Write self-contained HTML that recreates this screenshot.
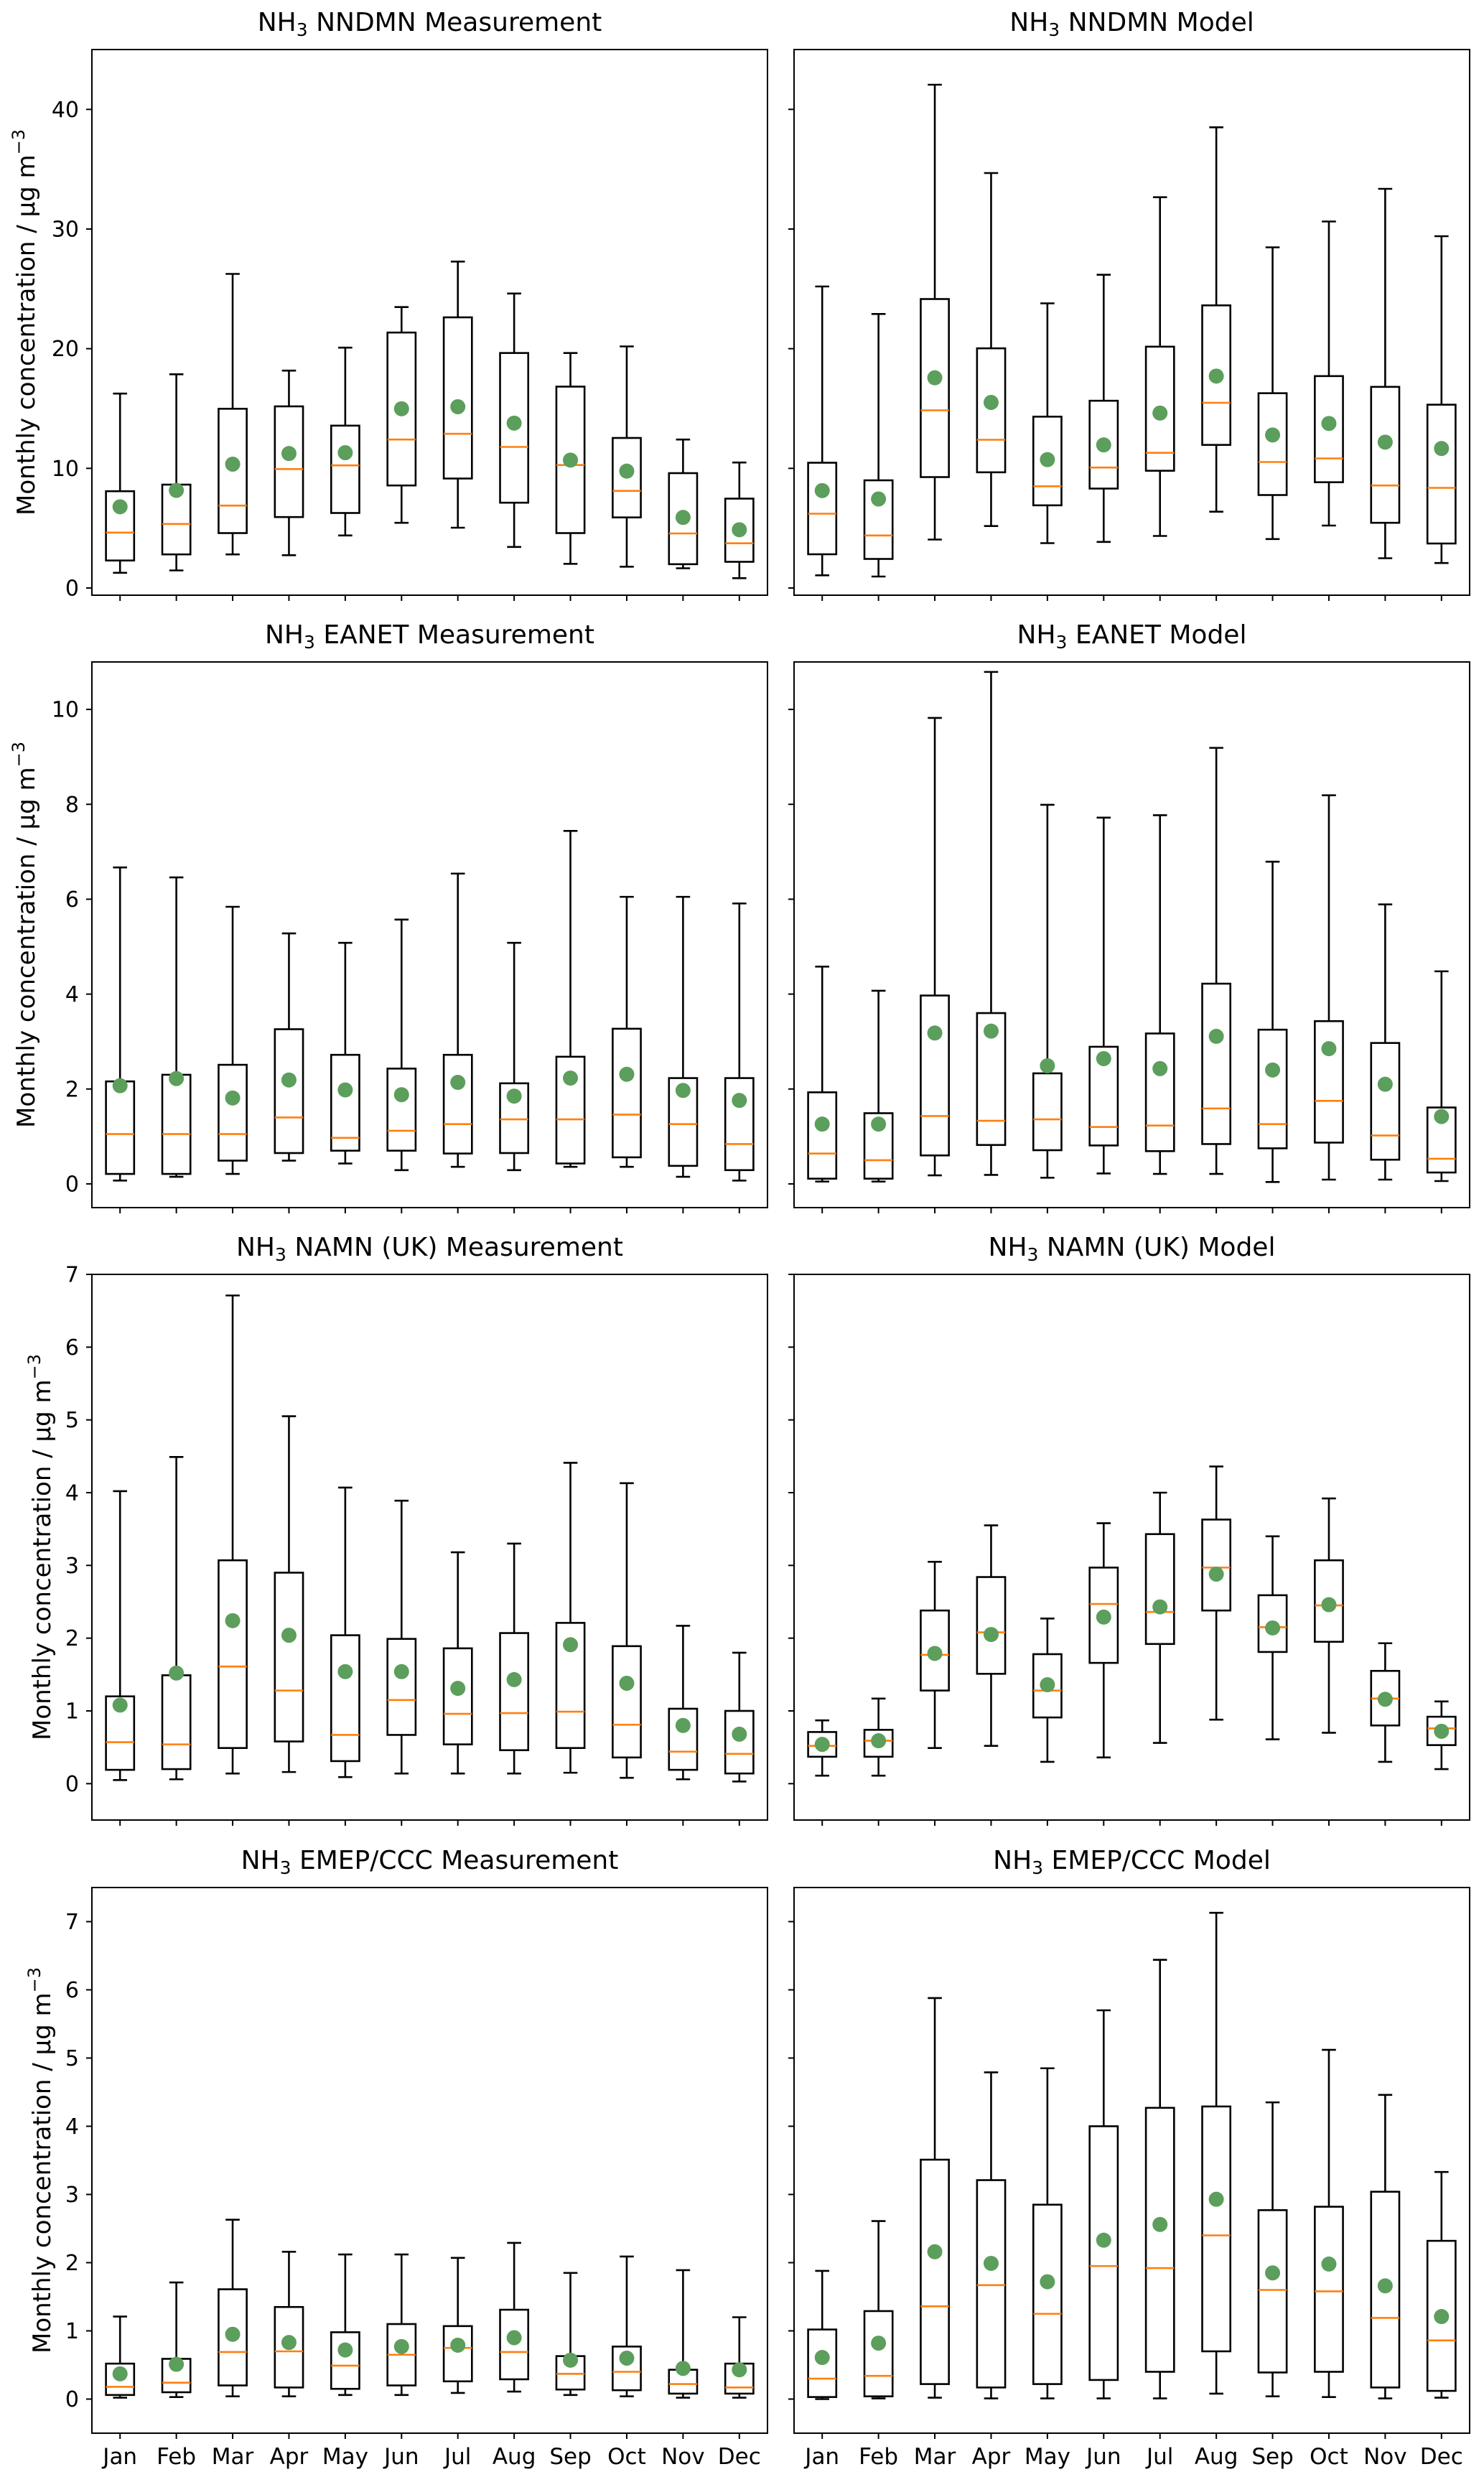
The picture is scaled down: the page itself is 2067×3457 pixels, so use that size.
<!DOCTYPE html>
<html><head><meta charset="utf-8"><title>NH3 monthly boxplots</title>
<style>
html,body{margin:0;padding:0;background:#fff;}
svg{display:block;font-family:"DejaVu Sans","Liberation Sans",sans-serif;}
</style></head>
<body>
<svg id="fig" xmlns="http://www.w3.org/2000/svg" width="2067" height="3457" viewBox="0 0 2067 3457">
<rect x="0" y="0" width="2067" height="3457" fill="#fff"/>
</svg>
<script>
const months = ["Jan","Feb","Mar","Apr","May","Jun","Jul","Aug","Sep","Oct","Nov","Dec"];

// NNDMN Measurement
const nndmnMeasLo   = [1.27,1.47,2.81,2.74,4.39,5.45,5.04,3.43,2.02,1.78,1.65,0.82];
const nndmnMeasQ1   = [2.30,2.81,4.59,5.93,6.27,8.57,9.15,7.13,4.59,5.90,1.99,2.19];
const nndmnMeasMed  = [4.63,5.35,6.89,9.94,10.25,12.41,12.89,11.79,10.28,8.12,4.56,3.74];
const nndmnMeasQ3   = [8.09,8.64,14.98,15.18,13.57,21.35,22.62,19.64,16.83,12.54,9.60,7.47];
const nndmnMeasHi   = [16.25,17.86,26.25,18.17,20.09,23.48,27.28,24.61,19.64,20.19,12.41,10.49];
const nndmnMeasMean = [6.79,8.16,10.35,11.24,11.31,14.98,15.15,13.78,10.69,9.77,5.90,4.87];
// NNDMN Model
const nndmnModLo   = [1.06,0.96,4.05,5.18,3.75,3.85,4.35,6.38,4.09,5.22,2.49,2.09];
const nndmnModQ1   = [2.82,2.43,9.27,9.67,6.91,8.31,9.80,11.96,7.77,8.84,5.45,3.72];
const nndmnModMed  = [6.21,4.39,14.85,12.39,8.50,10.07,11.30,15.48,10.53,10.83,8.57,8.37];
const nndmnModQ3   = [10.47,9.00,24.15,20.03,14.32,15.65,20.17,23.62,16.28,17.71,16.81,15.32];
const nndmnModHi   = [25.2,22.9,42.06,34.68,23.79,26.18,32.66,38.5,28.47,30.63,33.36,29.4];
const nndmnModMean = [8.14,7.44,17.57,15.51,10.73,11.96,14.62,17.71,12.79,13.75,12.19,11.66];
// EANET Measurement
const eanetMeasLo   = [0.07,0.15,0.21,0.49,0.43,0.29,0.36,0.29,0.36,0.36,0.15,0.07];
const eanetMeasQ1   = [0.21,0.21,0.49,0.65,0.70,0.70,0.64,0.65,0.43,0.56,0.38,0.29];
const eanetMeasMed  = [1.05,1.05,1.05,1.40,0.97,1.12,1.26,1.36,1.36,1.46,1.26,0.84];
const eanetMeasQ3   = [2.16,2.30,2.51,3.26,2.72,2.43,2.72,2.12,2.68,3.27,2.23,2.23];
const eanetMeasHi   = [6.67,6.46,5.84,5.28,5.08,5.57,6.54,5.08,7.44,6.05,6.05,5.91];
const eanetMeasMean = [2.07,2.22,1.81,2.19,1.98,1.88,2.14,1.85,2.23,2.31,1.97,1.76];
// EANET Model
const eanetModLo   = [0.05,0.05,0.18,0.19,0.13,0.22,0.21,0.21,0.04,0.09,0.09,0.06];
const eanetModQ1   = [0.11,0.11,0.60,0.82,0.71,0.81,0.69,0.84,0.75,0.87,0.51,0.24];
const eanetModMed  = [0.64,0.50,1.43,1.33,1.36,1.20,1.23,1.59,1.26,1.75,1.02,0.53];
const eanetModQ3   = [1.93,1.49,3.97,3.60,2.33,2.89,3.17,4.22,3.25,3.43,2.97,1.61];
const eanetModHi   = [4.58,4.07,9.82,10.79,7.99,7.72,7.77,9.19,6.79,8.19,5.89,4.48];
const eanetModMean = [1.26,1.26,3.18,3.22,2.49,2.64,2.43,3.11,2.40,2.85,2.10,1.42];
// NAMN (UK) Measurement
const namnMeasLo   = [0.05,0.06,0.14,0.16,0.09,0.14,0.14,0.14,0.15,0.08,0.06,0.03];
const namnMeasQ1   = [0.19,0.20,0.49,0.58,0.31,0.67,0.54,0.46,0.49,0.36,0.19,0.14];
const namnMeasMed  = [0.57,0.54,1.61,1.28,0.67,1.15,0.96,0.97,0.99,0.81,0.44,0.41];
const namnMeasQ3   = [1.20,1.49,3.07,2.90,2.04,1.99,1.86,2.07,2.21,1.89,1.03,1.00];
const namnMeasHi   = [4.02,4.49,6.71,5.05,4.07,3.89,3.18,3.30,4.41,4.13,2.17,1.80];
const namnMeasMean = [1.08,1.52,2.24,2.04,1.54,1.54,1.31,1.43,1.91,1.38,0.80,0.68];
// NAMN (UK) Model
const namnModLo   = [0.11,0.11,0.49,0.52,0.30,0.36,0.56,0.88,0.61,0.70,0.30,0.20];
const namnModQ1   = [0.37,0.37,1.28,1.51,0.91,1.66,1.92,2.38,1.81,1.95,0.80,0.53];
const namnModMed  = [0.52,0.59,1.77,2.08,1.28,2.47,2.36,2.97,2.15,2.45,1.17,0.76];
const namnModQ3   = [0.71,0.74,2.38,2.84,1.78,2.97,3.43,3.63,2.59,3.07,1.55,0.92];
const namnModHi   = [0.87,1.17,3.05,3.55,2.27,3.58,4.00,4.36,3.40,3.92,1.93,1.13];
const namnModMean = [0.54,0.59,1.79,2.05,1.36,2.29,2.43,2.88,2.14,2.46,1.16,0.72];
// EMEP/CCC Measurement
const emepMeasLo   = [0.02,0.03,0.04,0.04,0.06,0.06,0.09,0.11,0.06,0.04,0.02,0.02];
const emepMeasQ1   = [0.06,0.10,0.20,0.17,0.15,0.20,0.26,0.29,0.14,0.13,0.08,0.08];
const emepMeasMed  = [0.18,0.24,0.69,0.70,0.49,0.65,0.75,0.69,0.37,0.40,0.22,0.17];
const emepMeasQ3   = [0.52,0.59,1.61,1.35,0.98,1.10,1.07,1.31,0.63,0.77,0.43,0.52];
const emepMeasHi   = [1.21,1.71,2.63,2.16,2.12,2.12,2.07,2.29,1.85,2.09,1.89,1.20];
const emepMeasMean = [0.37,0.51,0.95,0.83,0.72,0.77,0.79,0.90,0.57,0.60,0.45,0.43];
// EMEP/CCC Model
const emepModLo   = [0.00,0.01,0.02,0.01,0.01,0.01,0.01,0.08,0.04,0.03,0.01,0.02];
const emepModQ1   = [0.03,0.04,0.22,0.17,0.22,0.28,0.40,0.70,0.39,0.40,0.17,0.12];
const emepModMed  = [0.30,0.34,1.36,1.67,1.25,1.95,1.92,2.40,1.60,1.58,1.19,0.86];
const emepModQ3   = [1.02,1.29,3.51,3.21,2.85,4.00,4.27,4.29,2.77,2.82,3.04,2.32];
const emepModHi   = [1.88,2.61,5.88,4.79,4.85,5.70,6.44,7.13,4.35,5.12,4.46,3.33];
const emepModMean = [0.61,0.82,2.16,1.99,1.72,2.33,2.56,2.93,1.85,1.98,1.66,1.21];

const yTicksRow1 = [0,10,20,30,40];
const yTicksRow2 = [0,2,4,6,8,10];
const yTicksRow3 = [0,1,2,3,4,5,6,7];
const yTicksRow4 = [0,1,2,3,4,5,6,7];
const yDomainRow1 = [-0.6,45];
const yDomainRow2 = [-0.5,11];
const yDomainRow3 = [-0.5,7];
const yDomainRow4 = [-0.5,7.5];

const NS = "http://www.w3.org/2000/svg";
const svg = document.getElementById("fig");
function mk(tag, attrs, parent){
  const e = document.createElementNS(NS, tag);
  for (const k in attrs) e.setAttribute(k, attrs[k]);
  (parent||svg).appendChild(e);
  return e;
}
const PW = 941, PH = 760;
const colX = [128, 1106];
const rowY = [69, 922, 1775, 2629];

const panels = [
  {row:0,col:0,name:"nndmn-measurement",net:"NNDMN",kind:"Measurement",lo:nndmnMeasLo,q1:nndmnMeasQ1,med:nndmnMeasMed,q3:nndmnMeasQ3,hi:nndmnMeasHi,mean:nndmnMeasMean,ticks:yTicksRow1,dom:yDomainRow1},
  {row:0,col:1,name:"nndmn-model",net:"NNDMN",kind:"Model",lo:nndmnModLo,q1:nndmnModQ1,med:nndmnModMed,q3:nndmnModQ3,hi:nndmnModHi,mean:nndmnModMean,ticks:yTicksRow1,dom:yDomainRow1},
  {row:1,col:0,name:"eanet-measurement",net:"EANET",kind:"Measurement",lo:eanetMeasLo,q1:eanetMeasQ1,med:eanetMeasMed,q3:eanetMeasQ3,hi:eanetMeasHi,mean:eanetMeasMean,ticks:yTicksRow2,dom:yDomainRow2},
  {row:1,col:1,name:"eanet-model",net:"EANET",kind:"Model",lo:eanetModLo,q1:eanetModQ1,med:eanetModMed,q3:eanetModQ3,hi:eanetModHi,mean:eanetModMean,ticks:yTicksRow2,dom:yDomainRow2},
  {row:2,col:0,name:"namn-measurement",net:"NAMN (UK)",kind:"Measurement",lo:namnMeasLo,q1:namnMeasQ1,med:namnMeasMed,q3:namnMeasQ3,hi:namnMeasHi,mean:namnMeasMean,ticks:yTicksRow3,dom:yDomainRow3},
  {row:2,col:1,name:"namn-model",net:"NAMN (UK)",kind:"Model",lo:namnModLo,q1:namnModQ1,med:namnModMed,q3:namnModQ3,hi:namnModHi,mean:namnModMean,ticks:yTicksRow3,dom:yDomainRow3},
  {row:3,col:0,name:"emep-measurement",net:"EMEP/CCC",kind:"Measurement",lo:emepMeasLo,q1:emepMeasQ1,med:emepMeasMed,q3:emepMeasQ3,hi:emepMeasHi,mean:emepMeasMean,ticks:yTicksRow4,dom:yDomainRow4},
  {row:3,col:1,name:"emep-model",net:"EMEP/CCC",kind:"Model",lo:emepModLo,q1:emepModQ1,med:emepModMed,q3:emepModQ3,hi:emepModHi,mean:emepModMean,ticks:yTicksRow4,dom:yDomainRow4}
];

panels.forEach(p => {
  const x0 = colX[p.col], y0 = rowY[p.row];
  const g = mk("g", {});
  
  
  const xs = i => x0 + (i + 0.5) * PW / 12;
  const ys = v => y0 + PH - (v - p.dom[0]) / (p.dom[1] - p.dom[0]) * PH;
  const bw = PW / 12 * 0.5, cw = bw * 0.5;

  // title
  const t = mk("text", {x: x0 + PW/2, y: y0 - 26, "text-anchor":"middle", "font-size":"36", fill:"#000"}, g);
  
  
  t.appendChild(document.createTextNode("NH"));
  const sub = mk("tspan", {"font-size":"25", dy:"7"}, t);
  sub.textContent = "3";
  const rest = mk("tspan", {dy:"-7"}, t);
  rest.textContent = " " + p.net + " " + p.kind;

  // y ticks
  p.ticks.forEach(v => {
    const yy = ys(v);
    const tk = mk("line", {x1:x0-8, x2:x0, y1:yy, y2:yy, stroke:"#000", "stroke-width":"2"}, g);
    
    
    if (p.col === 0) {
      const tl = mk("text", {x:x0-18, y:yy+10.5, "text-anchor":"end", "font-size":"30", fill:"#000"}, g);
      
      
      tl.textContent = String(v);
    }
  });
  // y label
  if (p.col === 0) {
    const cx = p.row < 2 ? 36 : 58, cy = y0 + PH/2;
    const yl = mk("text", {x:cx, y:cy, transform:`rotate(-90 ${cx} ${cy})`, "text-anchor":"middle", dy:"12", "font-size":"34", fill:"#000"}, g);
    
    
    yl.appendChild(document.createTextNode("Monthly concentration / μg m"));
    const sp = mk("tspan", {"font-size":"24", dy:"-14"}, yl);
    sp.textContent = "−3";
  }
  // x ticks
  months.forEach((m, i) => {
    const xx = xs(i);
    const tk = mk("line", {x1:xx, x2:xx, y1:y0+PH, y2:y0+PH+8, stroke:"#000", "stroke-width":"2"}, g);
    
    
    if (p.row === 3) {
      const tl = mk("text", {x:xx, y:y0+PH+43, "text-anchor":"middle", "font-size":"31", fill:"#000"}, g);
      
      
      tl.textContent = m;
    }
  });
  // boxes
  months.forEach((m, i) => {
    const xx = xs(i);
    const bg = mk("g", {fill:"none", stroke:"#000", "stroke-width":"2.6"}, g);
    
    
    mk("rect", {x:xx-bw/2, y:ys(p.q3[i]), width:bw, height:ys(p.q1[i]) - ys(p.q3[i])}, bg);
    mk("line", {x1:xx, x2:xx, y1:ys(p.q3[i]), y2:ys(p.hi[i])}, bg);
    mk("line", {x1:xx, x2:xx, y1:ys(p.q1[i]), y2:ys(p.lo[i])}, bg);
    mk("line", {x1:xx-cw/2, x2:xx+cw/2, y1:ys(p.hi[i]), y2:ys(p.hi[i])}, bg);
    mk("line", {x1:xx-cw/2, x2:xx+cw/2, y1:ys(p.lo[i]), y2:ys(p.lo[i])}, bg);
    const md = mk("line", {x1:xx-bw/2, x2:xx+bw/2, y1:ys(p.med[i]), y2:ys(p.med[i]), stroke:"#ff7f0e", "stroke-width":"2.6"}, g);
    
    
    const mn = mk("ellipse", {cx:xx, cy:ys(p.mean[i]), rx:10.5, ry:10.5, fill:"#5c9e5c"}, g);
    
    
  });
  // frame
  const fr = mk("rect", {x:x0, y:y0, width:PW, height:PH, fill:"none", stroke:"#000", "stroke-width":"2"}, g);
  
  
});
</script>
</body></html>
